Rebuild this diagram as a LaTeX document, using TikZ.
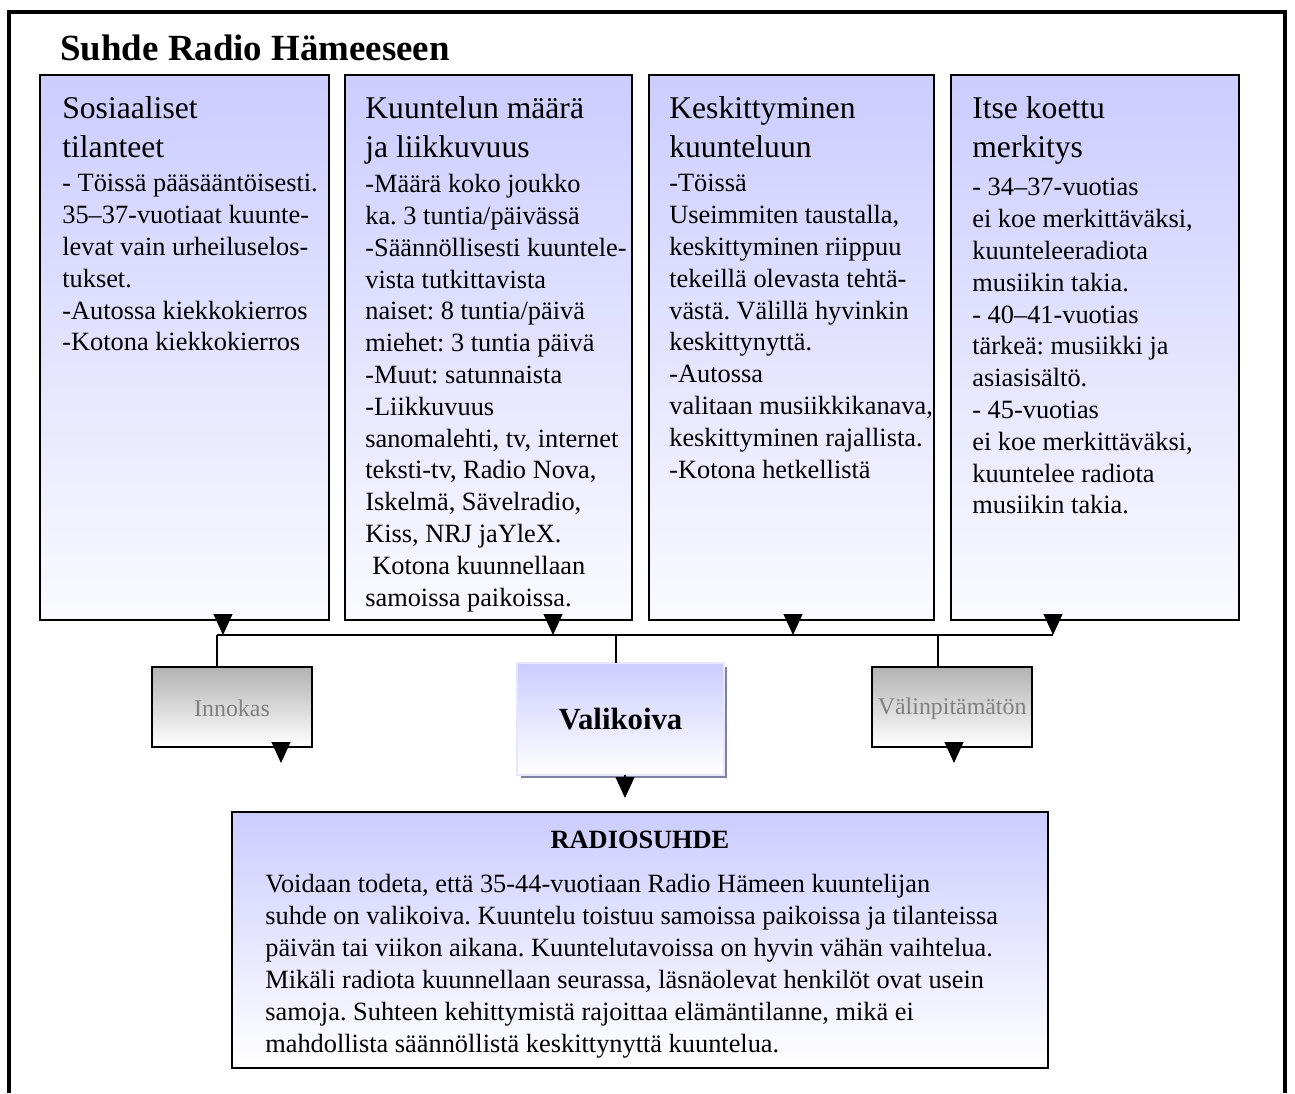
\documentclass[tikz,border=0pt]{standalone}
\usepackage{fontspec}
\setmainfont{Liberation Serif}
\usetikzlibrary{arrows.meta,shadows}
\frenchspacing

\definecolor{lavender}{RGB}{204,204,255}
\definecolor{paleblue}{RGB}{250,250,255}
\definecolor{boxgray}{RGB}{178,178,178}
\definecolor{shadowblue}{RGB}{128,128,160}

\tikzset{
	colbox/.style={draw, line width=1.1pt, top color=lavender, bottom color=paleblue, anchor=north west, outer sep=0pt, minimum height=10.9cm},
	head/.style={anchor=north west, inner sep=0pt, align=left, font=\fontsize{18}{22.4}\selectfont},
	body/.style={anchor=north west, inner sep=0pt, align=left, font=\fontsize{15}{18.1}\selectfont},
	graybox/.style={draw, line width=1.1pt, top color=boxgray, bottom color=white, text=gray, font=\fontsize{13.6}{16}\selectfont, text height=11pt, anchor=north west, outer sep=0pt, minimum width=3.2cm, minimum height=1.6cm},
	tri/.style={-{Triangle[width=0.38cm,length=0.42cm]}, line width=0.6pt},
	link/.style={line width=0.6pt}
}

\begin{document}
\begin{tikzpicture}[x=0.02cm, y=-0.02cm]
	\useasboundingbox (0,0) rectangle (1295,1093);
	\draw[line width=1.8pt] (9,1093) -- (9,12) -- (1285,12) -- (1285,1093);

	\node[anchor=north west, inner sep=0pt, font=\bfseries\fontsize{21}{25}\selectfont] (title) at (60,35) {Suhde Radio Hämeeseen};

	% columns
	\node[colbox, minimum width=5.78cm] (soz) at (40,75) {};
	\node[colbox, minimum width=5.74cm] (maara) at (345,75) {};
	\node[colbox, minimum width=5.70cm] (keski) at (649,75) {};
	\node[colbox, minimum width=5.76cm] (merk) at (951,75) {};

	\node[head] (soz-h) at (62,96) {Sosiaaliset\\tilanteet};
	\node[body] (soz-t) at (62,174) {- Töissä pääsääntöisesti.\\35–37-vuotiaat kuunte-\\levat vain urheiluselos-\\tukset.\\-Autossa kiekkokierros\\-Kotona kiekkokierros};

	\node[head] (maara-h) at (365,96) {Kuuntelun määrä\\ja liikkuvuus};
	\node[body] (maara-t) at (365,174) {-Määrä koko joukko\\ka. 3 tuntia/päivässä\\-Säännöllisesti kuuntele-\\vista tutkittavista\\naiset: 8 tuntia/päivä\\miehet: 3 tuntia päivä\\-Muut: satunnaista\\-Liikkuvuus\\sanomalehti, tv, internet\\teksti-tv, Radio Nova,\\Iskelmä, Sävelradio,\\Kiss, NRJ jaYleX.\\\hspace*{4pt}Kotona kuunnellaan\\samoissa paikoissa.};

	\node[head] (keski-h) at (669,96) {Keskittyminen\\kuunteluun};
	\node[body] (keski-t) at (669,174) {-Töissä\\Useimmiten taustalla,\\keskittyminen riippuu\\tekeillä olevasta tehtä-\\västä. Välillä hyvinkin\\keskittynyttä.\\-Autossa\\valitaan musiikkikanava,\\keskittyminen rajallista.\\-Kotona hetkellistä};

	\node[head] (merk-h) at (972,96) {Itse koettu\\merkitys};
	\node[body] (merk-t) at (972,178) {- 34–37-vuotias\\ei koe merkittäväksi,\\kuunteleeradiota\\musiikin takia.\\- 40–41-vuotias\\tärkeä: musiikki ja\\asiasisältö.\\- 45-vuotias\\ei koe merkittäväksi,\\kuuntelee radiota\\musiikin takia.};

	% collecting line
	\coordinate (b-soz) at (223,635);
	\coordinate (b-maara) at (553,635);
	\coordinate (b-keski) at (793,635);
	\coordinate (b-merk) at (1053,635);
	\coordinate (b-inn) at (217,635);
	\coordinate (b-val) at (616,635);
	\coordinate (b-vlp) at (938,635);

	\draw[link] (b-inn) -- (b-merk);
	\draw[tri] (soz.south -| b-soz) -- (b-soz);
	\draw[tri] (maara.south -| b-maara) -- (b-maara);
	\draw[tri] (keski.south -| b-keski) -- (b-keski);
	\draw[tri] (merk.south -| b-merk) -- (b-merk);

	% relation types
	\node[graybox] (innokas) at (152,667) {Innokas};
	\node[graybox] (valinp) at (872,667) {Välinpitämätön};
	\node[anchor=north west, outer sep=0pt, minimum width=4.14cm, minimum height=2.24cm, top color=lavender, bottom color=white, draw=lavender!50!white, line width=0.8pt, drop shadow={shadow xshift=0.07cm, shadow yshift=-0.07cm, fill=shadowblue, opacity=1}, font=\bfseries\fontsize{17.5}{21}\selectfont] (valik) at (517,663) {Valikoiva};

	\draw[link] (b-inn) -- (b-inn |- innokas.north);
	\draw[link] (b-val) -- (b-val |- valik.north);
	\draw[link] (b-vlp) -- (b-vlp |- valinp.north);

	\coordinate (inn-end) at (281,763);
	\coordinate (vlp-end) at (954,763);
	\coordinate (val-end) at (625,798);
	\draw[tri] (innokas.south -| inn-end) -- (inn-end);
	\draw[tri] (valinp.south -| vlp-end) -- (vlp-end);
	\draw[tri] (valik.south -| val-end) -- (val-end);

	% summary
	\node[draw, line width=1.1pt, top color=lavender, bottom color=white, anchor=north west, outer sep=0pt, minimum width=16.32cm, minimum height=5.12cm] (radio) at (232,812) {};
	\node[anchor=north, inner sep=0pt, font=\bfseries\fontsize{15}{18}\selectfont] (radio-h) at (640,831) {RADIOSUHDE};
	\node[body, font=\fontsize{15}{18.2}\selectfont] (radio-t) at (265,874) {Voidaan todeta, että 35-44-vuotiaan Radio Hämeen kuuntelijan\\suhde on valikoiva. Kuuntelu toistuu samoissa paikoissa ja tilanteissa\\päivän tai viikon aikana. Kuuntelutavoissa on hyvin vähän vaihtelua.\\Mikäli radiota kuunnellaan seurassa, läsnäolevat henkilöt ovat usein\\samoja. Suhteen kehittymistä rajoittaa elämäntilanne, mikä ei\\mahdollista säännöllistä keskittynyttä kuuntelua.};
\end{tikzpicture}
\end{document}
